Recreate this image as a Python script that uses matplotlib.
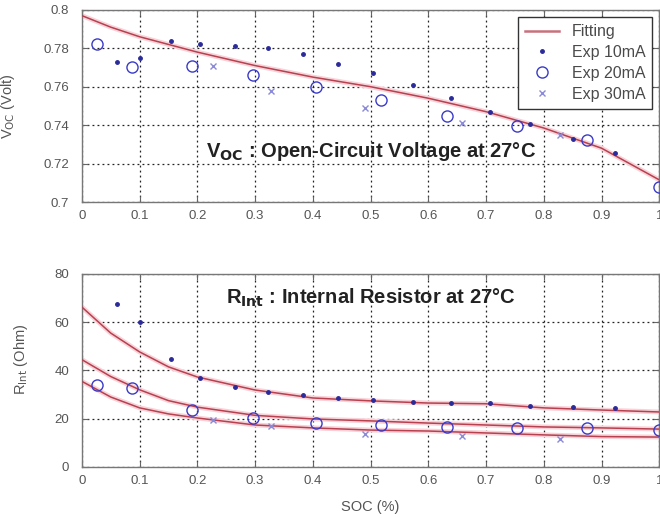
import matplotlib
matplotlib.use("Agg")
import matplotlib.pyplot as plt
import numpy as np

plt.rcParams['font.family'] = ['Liberation Sans', 'DejaVu Sans']

# x positions of the measurements (SOC)
soc_10 = [0.061, 0.100, 0.154, 0.205, 0.265, 0.323, 0.383, 0.443, 0.505, 0.574,
          0.639, 0.707, 0.776, 0.851, 0.924]
soc_20 = [0.027, 0.086, 0.190, 0.296, 0.405, 0.518, 0.633, 0.754, 0.875, 0.999]
soc_30 = [0.227, 0.328, 0.490, 0.658, 0.828]

# open-circuit voltage
voc_10 = [0.773, 0.775, 0.784, 0.782, 0.781, 0.780, 0.777, 0.772, 0.767, 0.761,
          0.754, 0.747, 0.7405, 0.733, 0.7255]
voc_20 = [0.782, 0.770, 0.771, 0.766, 0.760, 0.753, 0.745, 0.7398, 0.7323, 0.708]
voc_30 = [0.771, 0.758, 0.749, 0.741, 0.735]

fit_soc = [0.0, 0.05, 0.1, 0.15, 0.2, 0.3, 0.4, 0.5, 0.6, 0.7, 0.8, 0.9, 1.0]
voc_fit = [0.797, 0.791, 0.786, 0.782, 0.778, 0.771, 0.765, 0.760, 0.754, 0.747,
           0.7385, 0.728, 0.7115]

# internal resistance
r_10 = [67.6, 60.0, 44.8, 36.9, 33.0, 31.0, 29.8, 28.5, 27.8, 26.9,
        26.5, 26.5, 25.3, 24.9, 24.5]
r_20 = [34.0, 32.7, 23.6, 20.3, 18.2, 17.4, 16.6, 16.3, 16.3, 15.3]
r_30 = [19.5, 17.0, 13.7, 12.9, 11.6]

r_fit_10 = [66.3, 55.5, 47.7, 41.5, 37.3, 31.9, 28.6, 27.4, 26.5, 26.2, 24.5, 23.6, 22.8]
r_fit_20 = [44.5, 37.5, 32.0, 27.5, 24.8, 21.4, 19.9, 19.1, 18.2, 17.4, 16.6, 16.2, 15.7]
r_fit_30 = [35.5, 29.0, 24.5, 22.0, 20.3, 17.4, 16.2, 15.3, 14.9, 14.1, 13.3, 12.6, 12.4]

fit_color = '#b8404f'
halo_color = '#f7d3d9'
mk_color = '#3a3ac8'
txt_color = '#555555'


def style_axes(ax, yticks, ylim):
    ax.set_xlim(0, 1)
    ax.set_ylim(*ylim)
    ax.set_xticks(np.arange(0, 1.01, 0.1))
    ax.set_xticklabels(['0', '0.1', '0.2', '0.3', '0.4', '0.5', '0.6', '0.7', '0.8', '0.9', '1'])
    ax.set_yticks(yticks)
    ax.grid(True, linestyle=(0, (1.5, 2.5)), color='#222222', linewidth=0.9)
    ax.tick_params(direction='in', top=True, right=True, length=4,
                   labelsize=9.5, labelcolor=txt_color, color='#666666')
    ax.tick_params(axis='x', pad=6)
    ax.tick_params(axis='y', pad=9)
    for s in ax.spines.values():
        s.set_color('#777777')
        s.set_linewidth(1.0)


def fit_line(ax, x, y):
    ax.plot(x, y, color=halo_color, linewidth=3.5, zorder=2, solid_capstyle='butt')
    ax.plot(x, y, color=fit_color, linewidth=1.1, zorder=3)


fig = plt.figure(figsize=(6.6, 5.18), dpi=100)
ax1 = fig.add_axes([0.124, 0.610, 0.875, 0.371])
ax2 = fig.add_axes([0.124, 0.0985, 0.875, 0.3726])

# top panel
fit_line(ax1, fit_soc, voc_fit)
ax1.plot([], [], color=fit_color, linewidth=1.8, alpha=0.75, label='Fitting')
ax1.plot(soc_10, voc_10, linestyle='none', marker='.', markersize=5,
         color='#2a2a9a', zorder=4, label='Exp 10mA')
ax1.plot(soc_20, voc_20, linestyle='none', marker='o', markersize=8,
         markerfacecolor='none', markeredgecolor=mk_color, markeredgewidth=1.0,
         zorder=4, label='Exp 20mA')
ax1.plot(soc_30, voc_30, linestyle='none', marker='x', markersize=4,
         color='#8a8ad8', markeredgewidth=1.0, zorder=4, label='Exp 30mA')
style_axes(ax1, [0.7, 0.72, 0.74, 0.76, 0.78, 0.8], (0.7, 0.8))
ax1.set_yticklabels(['0.7', '0.72', '0.74', '0.76', '0.78', '0.8'])
ax1.set_ylabel('V$_{\\mathrm{OC}}$ (Volt)', fontsize=10.5, color=txt_color)
ax1.yaxis.set_label_coords(-0.112, 0.5)
ax1.text(0.5, 0.7265, 'V$_{\\mathbf{OC}}$ : Open-Circuit Voltage at 27°C',
         fontsize=14.5, fontweight='bold', ha='center', va='center', color='#222222')
leg = ax1.legend(loc='upper right', bbox_to_anchor=(0.988, 0.962),
                 fontsize=11.5, frameon=True, fancybox=False, framealpha=1,
                 edgecolor='#333333', handlelength=2.1, borderpad=0.45,
                 labelspacing=0.36, handletextpad=0.8, borderaxespad=0.0)
for t in leg.get_texts():
    t.set_color('#4a4a4a')
leg.get_frame().set_linewidth(1.0)

# bottom panel
fit_line(ax2, fit_soc, r_fit_10)
fit_line(ax2, fit_soc, r_fit_20)
fit_line(ax2, fit_soc, r_fit_30)
ax2.plot(soc_10, r_10, linestyle='none', marker='.', markersize=5,
         color='#2a2a9a', zorder=4)
ax2.plot(soc_20, r_20, linestyle='none', marker='o', markersize=8,
         markerfacecolor='none', markeredgecolor=mk_color, markeredgewidth=1.0, zorder=4)
ax2.plot(soc_30, r_30, linestyle='none', marker='x', markersize=4,
         color='#8a8ad8', markeredgewidth=1.0, zorder=4)
style_axes(ax2, [0, 20, 40, 60, 80], (0, 80))
ax2.set_ylabel('R$_{\\mathrm{Int}}$ (Ohm)', fontsize=10.5, color=txt_color)
ax2.yaxis.set_label_coords(-0.090, 0.56)
ax2.set_xlabel('SOC (%)', fontsize=10.5, color=txt_color, labelpad=9)
ax2.text(0.5, 70, 'R$_{\\mathbf{Int}}$ : Internal Resistor at 27°C',
         fontsize=14.5, fontweight='bold', ha='center', va='center', color='#222222')

fig.savefig('out.png', dpi=100)
